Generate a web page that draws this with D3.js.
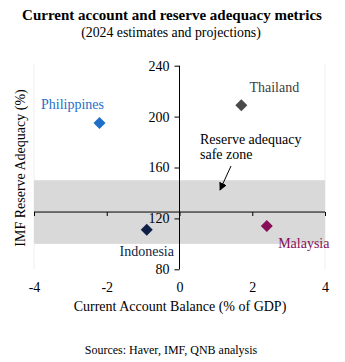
<!DOCTYPE html>
<html><head><meta charset="utf-8">
<script src="https://cdn.jsdelivr.net/npm/d3@7"></script>
<style>
html,body{margin:0;padding:0;background:#fff;}
svg{display:block;font-family:"Liberation Serif","Times New Roman",serif;}
</style></head>
<body>
<svg id="c" width="345" height="362"></svg>
<script>
const countries = ["Philippines","Thailand","Indonesia","Malaysia"];
const currentAccount = [-2.2, 1.7, -0.9, 2.4];
const reserveAdequacy = [195, 209, 111, 114];
const colors = ["#1F6FC8","#4A4A4A","#0F1F45","#860F58"];
const labelColors = ["#1F6FC8","#404040","#0F1F45","#860F58"];
const xTicks = [-4,-2,0,2,4];
const yTicks = [80,120,160,200,240];
const safeZone = [100,150];
const xCross = 125;

const svg = d3.select("#c");
const x = d3.scaleLinear().domain([-4,4]).range([34,325]);
const y = d3.scaleLinear().domain([80,240]).range([269.3,65.7]);

// titles
svg.append("text").attr("x",172).attr("y",20).attr("text-anchor","middle")
  .attr("font-weight","bold").attr("font-size",15).text("Current account and reserve adequacy metrics");
svg.append("text").attr("x",171).attr("y",37).attr("text-anchor","middle")
  .attr("font-size",13.8).text("(2024 estimates and projections)");

// faint plot border
svg.append("line").attr("x1",x(-4)).attr("x2",x(-4)).attr("y1",y(240)-2).attr("y2",y(80))
  .attr("stroke","#eeeeee").attr("stroke-width",1);
svg.append("line").attr("x1",x(4)).attr("x2",x(4)).attr("y1",y(240)-2).attr("y2",y(80))
  .attr("stroke","#eeeeee").attr("stroke-width",1);

// safe zone band
svg.append("rect").attr("x",x(-4)).attr("width",x(4)-x(-4))
  .attr("y",y(safeZone[1])).attr("height",y(safeZone[0])-y(safeZone[1]))
  .attr("fill","#D9D9D9");

// y axis at x=0
const yAxis = d3.axisLeft(y).tickValues(yTicks).tickSize(5).tickPadding(5);
const gy = svg.append("g").attr("transform",`translate(${x(0)},0)`).call(yAxis);
gy.select(".domain").attr("d",`M0,${y(240)}V${y(80)}`).attr("stroke","#000");
gy.selectAll("text").attr("font-size",14).attr("font-family","Liberation Serif").attr("fill","#000");

// x axis crossing at 125
const xAxis = d3.axisBottom(x).tickValues(xTicks).tickSize(4).tickFormat(d3.format("d"));
const gx = svg.append("g").attr("transform",`translate(0,${y(xCross)})`).call(xAxis);
gx.select(".domain").attr("d",`M${x(-4)},0H${x(4)}`).attr("stroke","#000");
gx.selectAll("text").attr("font-size",14).attr("font-family","Liberation Serif").attr("fill","#000")
  .attr("dy",0).attr("y", 292 - y(xCross)).text(d=>d<0?"-"+Math.abs(d):d);

// axis titles
svg.append("text").attr("x",180).attr("y",311).attr("text-anchor","middle")
  .attr("font-size",14).text("Current Account Balance (% of GDP)");
svg.append("text").attr("transform","translate(25,168) rotate(-90)").attr("text-anchor","middle")
  .attr("font-size",14).text("IMF Reserve Adequacy (%)");

// points
const sym = d3.symbol().type(d3.symbolSquare).size(72);
countries.forEach((c,i)=>{
  svg.append("path").attr("d",sym())
    .attr("transform",`translate(${x(currentAccount[i])},${y(reserveAdequacy[i])}) rotate(45)`)
    .attr("fill",colors[i]);
});
// labels
const lab = [
  {dx:-27, dy:-14},
  {dx:33, dy:-13},
  {dx:0, dy:26},
  {dx:37, dy:22}
];
countries.forEach((c,i)=>{
  svg.append("text").attr("x",x(currentAccount[i])+lab[i].dx).attr("y",y(reserveAdequacy[i])+lab[i].dy)
    .attr("text-anchor","middle").attr("font-size",14).attr("fill",labelColors[i]).text(c);
});

// annotation
svg.append("text").attr("x",200).attr("y",144).attr("font-size",14).text("Reserve adequacy");
svg.append("text").attr("x",200).attr("y",159).attr("font-size",14).text("safe zone");
svg.append("defs").append("marker").attr("id","ah").attr("viewBox","0 0 10 10")
  .attr("refX",9).attr("refY",5).attr("markerWidth",8).attr("markerHeight",8)
  .attr("orient","auto").append("path").attr("d","M0,0L10,5L0,10z").attr("fill","#000");
svg.append("line").attr("x1",231).attr("y1",166).attr("x2",220).attr("y2",190)
  .attr("stroke","#000").attr("stroke-width",1).attr("marker-end","url(#ah)");

// sources
svg.append("text").attr("x",171).attr("y",354).attr("text-anchor","middle")
  .attr("font-size",12).text("Sources: Haver, IMF, QNB analysis");
</script>
</body></html>
